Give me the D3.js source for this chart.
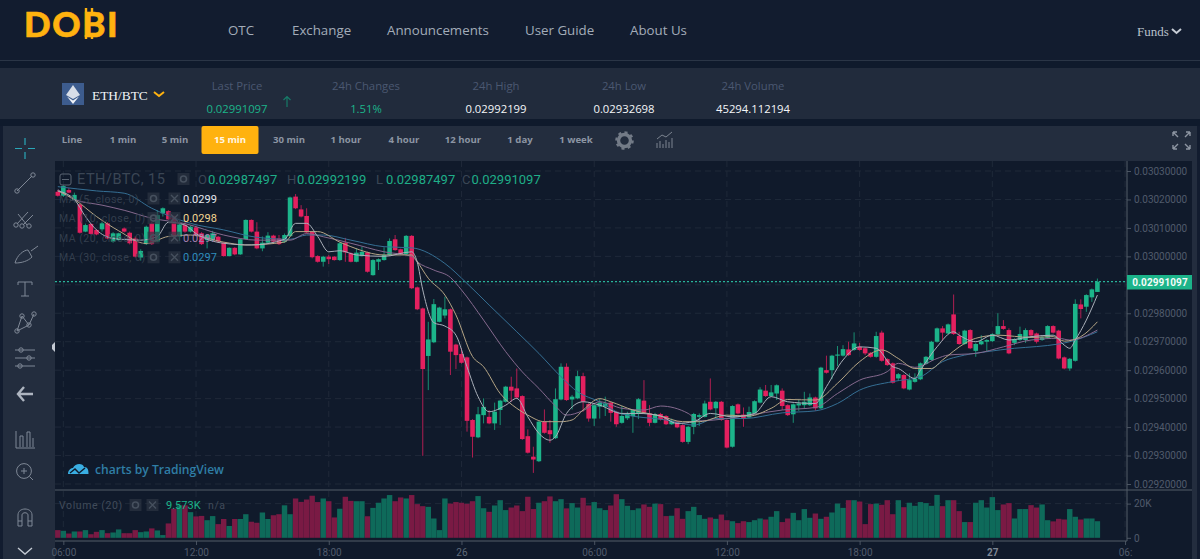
<!DOCTYPE html>
<html>
<head>
<meta charset="utf-8">
<title>ETH/BTC</title>
<script src="https://cdn.jsdelivr.net/npm/d3@7"></script>
<style>
  html, body { margin: 0; padding: 0; background: #121c2f; overflow: hidden; }
  text { font-family: "Open Sans", sans-serif; }
</style>
</head>
<body>
<div id="chart"></div>
<script>
/* DATA - prices in 1/100000 BTC, one entry per 15 min candle, volumes in K */
var opens = [3022.7,3021.3,3023.3,3019.8,3018.3,3008.7,3011.4,3009.3,3009.5,3011.6,
3005.2,3005.7,3009.8,3008.3,3006.3,2999.6,3004.3,3011.6,3005.2,3015.1,
3015.9,3014,3006.9,3011,3008.7,3010.2,3008.1,3005.7,3005.7,3006.9,
3004.8,3000.1,3003,3000.7,3006.1,3012.8,3008.7,3002.8,3004.8,3007.3,
3006.3,3005.2,3007.1,3021,3016.5,3014.2,3008.7,3000.1,2998.1,2999.9,
2999.9,2998.7,3004.8,3001.1,2998.1,3000.1,3001.4,2993.4,2998.1,2998.7,
3000.5,3006,3002.5,3000.8,3007.2,2989.1,2981.7,2965,2969.8,2977,
2979.2,2981.4,2969,2965.7,2964.5,2942.5,2936.4,2944.2,2943.6,2941.3,
2946,2948.9,2954.2,2953.6,2950.9,2936.8,2929.6,2928,2941.9,2938.9,
2936.1,2949.7,2961.2,2949.7,2950.1,2957.9,2948.1,2943,2947.2,2947.2,
2948.6,2945.4,2941.5,2943.1,2943.9,2944.6,2949.3,2944.8,2941.5,2944.6,
2943.9,2941,2941.9,2940.7,2934.8,2940.1,2943.6,2943.6,2948.9,2946.6,
2948.9,2942.5,2933.1,2948,2944.4,2943.4,2944.8,2948.6,2952.8,2950.9,
2951.8,2952.8,2947.7,2944.5,2947.6,2947.7,2947.7,2950.4,2946.6,2960,
2960,2965.1,2965.1,2967.3,2967.1,2968.2,2967.7,2966.1,2964.7,2973.2,
2963.9,2962.4,2957.1,2958.3,2953.2,2955.9,2956.8,2962.2,2963.6,2970,
2974.7,2972.9,2979.6,2972,2969.2,2974.1,2966.8,2969.1,2970,2970.2,
2972.6,2975.5,2974.1,2969.6,2970.6,2970.6,2974.1,2972.9,2970.6,2971.4,
2975.5,2973.9,2964.5,2960.6,2963.3,2983.1,2982.3,2985.6,2987.5];

var highs = [3023.3,3025,3024,3022.4,3018.6,3011.5,3011.6,3009.5,3012.2,3012,
3008.5,3008.3,3010.2,3008.7,3007,3002.5,3010.8,3012,3016.2,3017.2,
3016.2,3014.3,3012.6,3012,3010.8,3010.8,3008.5,3007.8,3009,3007.2,
3005,3003.2,3003.2,3006.2,3013,3013,3012,3007,3008.5,3007.6,
3007.5,3008,3021,3021.9,3018,3016.9,3009,3000.4,3000.2,3000.5,
3000.1,3005,3006.5,3001.4,3002.8,3003.4,3001.7,2999,2999.3,3003.2,
3006.3,3007.5,3002.7,3007.5,3007.5,2989.4,2982,2977,2985,2982.3,
2985.8,2981.7,2969.3,2967.7,2964.8,2942.8,2947.1,2950.1,2946,2948.6,
2949.6,2954.5,2957.7,2960.6,2951.2,2939.2,2933.1,2942.2,2946.2,2942.5,
2953.6,2962.4,2962.4,2951.3,2959.8,2959.1,2948.4,2948,2950,2950.7,
2949,2945.7,2947.4,2945.4,2946.3,2950.2,2956.5,2947.7,2945,2945,
2944.2,2943,2942.2,2941,2940.4,2945,2944.8,2949.3,2957.1,2949.2,
2949.2,2942.8,2947.7,2948.3,2946.9,2947.2,2949.4,2954,2954.8,2954.8,
2955,2953.6,2948,2948.3,2949.7,2952.4,2951.8,2950.7,2961.2,2965.1,
2965.4,2968.5,2968.8,2970,2973.3,2969.6,2968,2966.4,2973.5,2973.9,
2964.2,2962.7,2959,2958.6,2958.9,2958.9,2962.7,2965,2970.3,2975,
2975.5,2976.4,2986.6,2973.5,2974.2,2974.4,2969.5,2972.3,2970.9,2973,
2980,2977.6,2974.7,2971.2,2975.3,2974.7,2974.4,2973.2,2972.3,2975.8,
2975.8,2974.2,2964.8,2964.3,2984.9,2984.9,2986.7,2988.7,2992.2];

var lows = [3021,3020.9,3022.2,3019.8,3008,3008.5,3007.6,3007.4,3008.7,3006,
3004.8,3005.5,3008.4,3004.2,2999.6,2998.5,3004,3004,3005,3014,
3012.8,3006.5,3005.5,3008.3,3008.4,3007,3004,3002.8,3005.4,3005,
2999.9,3000,3000.4,3000.5,3006,3008.4,3002.5,3001.8,3004.5,3004.9,
3004,3004.8,3006.8,3016.6,3013.7,3008.1,2999.3,2997.8,2996.4,2997.3,
2998.5,2998.4,2998.1,2997.9,2997.9,2999.9,2994.3,2993.2,2995.2,2998.5,
3000.2,3002,3000.5,3000.5,2988.5,2981.1,2929.9,2953,2969.5,2976.8,
2978.2,2958.3,2960.4,2962.3,2938.4,2929.3,2936.1,2941.3,2941,2939,
2940.7,2948.6,2948.9,2950.1,2935.5,2930.7,2923.9,2927.7,2937.7,2934.5,
2935.8,2949.4,2949.2,2946.2,2949.8,2945.4,2941.9,2940.4,2943,2943.9,
2941.9,2940.1,2941.2,2942.5,2938,2942.8,2944.7,2940.3,2941.3,2942.3,
2940.7,2940.8,2939.6,2934.5,2934,2937.5,2940.4,2943.4,2945.9,2943.1,
2942.2,2932.5,2932.8,2944.5,2940.1,2943.1,2944.5,2948.3,2950.6,2950.6,
2949.5,2946,2943.9,2941.5,2945.7,2946.6,2947.4,2945.7,2946.3,2958.8,
2956.8,2961.4,2964.8,2965,2966.8,2966.8,2965.3,2964.4,2964.4,2963,
2961.5,2955.3,2956.3,2953.3,2952.9,2955.6,2956.5,2961.9,2963.3,2969.7,
2970.4,2972.6,2972.4,2968.9,2968.9,2967.4,2964.7,2968.8,2966.5,2969.9,
2972.3,2974.2,2965.6,2968.8,2970.3,2969.6,2971.9,2969.4,2970.3,2971.1,
2972.9,2963.8,2960.3,2959.8,2963,2978.2,2980.5,2984,2987.5];

var closes = [3021.3,3024.7,3022.4,3021.6,3008.3,3011,3007.9,3007.7,3011.6,3006.3,
3008.1,3008.1,3008.7,3004.6,2999.9,3001.9,3010.4,3004.3,3014.5,3016.9,
3013,3006.9,3011.2,3008.7,3010.4,3007.5,3004.3,3007.5,3008.1,3005.2,
3000.1,3003,3000.7,3006,3012.8,3008.7,3002.8,3004.8,3007.3,3005.2,
3004.3,3007.5,3020.7,3016.9,3014,3008.4,2999.7,2998.1,2999.9,2999,
2998.7,3004.6,3001.4,2998.1,3001.3,3001.6,2994.6,2998.7,2999,3000.5,
3005.4,3002.2,3000.8,3007.2,2988.8,2981.4,2960.4,2970.8,2983.2,2982,
2981.4,2966.5,2965.3,2962.6,2942.2,2936.6,2944.5,2947.1,2941.3,2945.4,
2949.3,2954.2,2952.8,2950.4,2935.8,2931,2928.6,2941.9,2938,2937.5,
2949.8,2961.2,2949.5,2950.7,2957.9,2948.9,2943,2947.7,2948.6,2948.3,
2945,2941,2943.9,2944.6,2946,2949.8,2945,2941.5,2944.6,2942.7,
2941,2942.2,2939.9,2934.8,2940.1,2944.6,2944.2,2948.3,2946.2,2948.9,
2942.5,2932.8,2947.4,2944.8,2943,2945.3,2949.1,2953.2,2950.9,2952.2,
2954.7,2947.4,2944.2,2948,2948.3,2948.9,2950.4,2946.6,2960.9,2959.1,
2965.1,2965.5,2967.4,2965.3,2969.4,2967.1,2965.9,2964.7,2972,2963.3,
2961.8,2955.6,2958.6,2953.6,2956.5,2957.1,2962.4,2964.7,2970,2974.7,
2973.2,2976.1,2972.7,2969.2,2973.9,2967.7,2969.2,2970.2,2970.6,2972.7,
2975.5,2974.5,2965.9,2970.9,2972.7,2974.1,2972.2,2970,2971.5,2975.5,
2973.2,2964.1,2960.6,2964,2983.3,2981.5,2986.4,2988.4,2991.1];

var volumes = [4.5,4.1,2.5,3.7,3.7,4.5,2.1,3.5,4.5,2.7,
3.1,4.9,2.7,2.7,4.5,3.3,3.7,5.5,4.3,1.6,
8.4,17,19,19,15,12.5,12.8,10.3,12.7,8,
11,6.9,11,11,13.8,9.4,8.8,14.8,11,13.2,
13.8,19,13.8,23,21,22.4,24.6,20.9,23,21.4,
11.9,17,24,21.6,21.4,21.4,12.6,17.5,20.5,23,
25,21.4,23.6,23,25,19.7,18.5,18.1,11.3,4.5,
23,20,20.9,20.5,19.9,21.4,24.4,17.3,15.2,18.9,
22,16.2,17.7,18.9,15.6,24,16.8,20.5,21.4,24.2,
21.4,22.6,17.2,20.3,17.7,23.4,18.9,20.9,17.3,16.2,
18.9,25.5,22.6,18.7,16.2,17.2,19.5,18.1,20,19.7,
12.7,12.9,17.3,11.1,15.6,18.1,13.3,11.1,11.9,11.1,
13.6,10.3,9.7,8.6,9.7,9.2,10.3,11.3,10.7,12.3,
15.6,9.2,11.3,14.6,10.3,16.8,11.7,14.2,11.1,12.3,
14.8,20,17.5,22,22,21.2,8,19.7,20,19.3,
22,13.8,22,17.9,20.5,18.7,20.9,20.3,18.7,25.1,
18.5,22,22,15.6,9.2,9.2,20.5,22,17.7,23.8,
16.2,19.5,20.3,11.3,16.8,16.8,19.1,17.7,19.5,10.3,
9.6,11.1,10.7,16.8,12.3,10.7,11.3,11.3,9.7];

// moving averages: [candle index, price]
var ma5 = [[0,3023],[3,3020],[5,3014],[7,3009.3],[10,3006.3],[15,3005.7],[18,3007],[20,3012],[23,3011],[25,3008],[30,3004.6],[35,3004],[41,3006],[43,3011.6],[45,3011.6],[47,3007],[49,3001.6],[51,3002],[54,3000.5],[59,3000],[64,3001.6],
  [65,2998],[66,2988.2],[68,2976.7],[70,2975.5],[72,2972.3],[74,2961.2],[76,2950.7],[78,2945.4],[81,2947.7],[83,2950.1],[85,2943.6],[87,2937.8],[89,2935.4],[90,2936.6],[92,2944.8],[95,2948.9],[98,2947.7],
  [102,2944.8],[105,2944.8],[109,2943.9],[112,2941.3],[115,2941.9],[118,2944.8],[122,2943.6],[126,2944.8],[129,2950.7],[132,2948.9],[137,2948.3],[139,2954.2],[142,2963.6],[145,2968.2],[148,2967.7],[151,2961.2],
  [152,2960.6],[155,2957.1],[156,2960],[159,2968.2],[162,2973.5],[163,2972.3],[166,2970],[169,2972.3],[172,2970.6],[176,2971.8],[180,2972.3],[182,2968.8],[183,2967.7],[184,2970.6],[186,2977.6],[188,2986.4]];
var ma10 = [[0,3023],[3,3020],[7,3014],[11,3009],[16,3004.5],[20,3007],[24,3007.5],[30,3005],[34,3004],[41,3005],[43,3008.7],[47,3008.7],[51,3005],[53,3003.4],[59,3000.5],[64,3000.5],
  [65,2998.1],[67,2992.3],[70,2986.4],[72,2979.4],[75,2964.8],[77,2961.2],[80,2951.8],[83,2946.6],[85,2944.2],[88,2941.9],[91,2941.9],[93,2942.5],[95,2946],[98,2950],
  [100,2948.9],[104,2946],[109,2943.9],[113,2941.9],[116,2941.9],[121,2944.2],[125,2943.9],[129,2946.6],[132,2949.7],[137,2949.5],[141,2955.4],[145,2963],[149,2967.1],[152,2964.1],
  [155,2960.6],[158,2960.6],[160,2963.6],[164,2969.4],[166,2971.2],[170,2972.3],[176,2971.5],[180,2971.8],[182,2970.2],[185,2971.8],[188,2977]];
var ma20 = [[0,3023.5],[3,3020],[8,3018],[12,3016.2],[17,3013.4],[23,3011.5],[30,3007.5],[36,3005.7],[42,3005.7],[45,3008],[48,3006.9],[53,3004.6],[59,3001.6],[64,3000],
  [65,2998.1],[68,2995.2],[71,2992.6],[73,2988.2],[77,2977.6],[81,2966.5],[84,2959.4],[87,2953.6],[90,2947.4],[92,2944.2],[95,2945.8],[98,2948.9],
  [102,2946.6],[106,2946],[109,2947.4],[114,2944.8],[116,2942.2],[121,2943],[125,2944.2],[131,2946],[137,2946.9],[141,2951.8],[145,2956.5],[150,2959.5],
  [152,2962.4],[155,2961],[159,2964.1],[161,2965.3],[166,2965.9],[171,2968.2],[176,2970.6],[181,2971.2],[183,2970.6],[188,2974.1]];
var ma30 = [[0,3024.5],[7,3023],[12,3022.2],[17,3016.9],[24,3011.6],[30,3009.3],[36,3006.7],[42,3006],[45,3007.5],[48,3007.5],[53,3005.7],[59,3003.4],[64,3003],
  [70,2997.5],[74,2990.5],[78,2982.9],[83,2973.5],[87,2965.9],[91,2957.7],[94,2952.4],[98,2948.9],
  [102,2944.6],[110,2942.5],[115,2940.7],[119,2943],[124,2943],[131,2945],[137,2945.7],[141,2948.3],[145,2953],[151,2956],
  [156,2957.7],[160,2963],[164,2965.3],[168,2966.5],[173,2967.7],[177,2968.3],[181,2969.2],[183,2970],[188,2973.5]];

var priceTicks = [3030,3020,3010,3000,2990,2980,2970,2960,2950,2940,2930,2920];
var volumeTicks = [0,20];
var timeTicks = [1,25,49,73,97,121,145,169,193];
var timeLabels = ["06:00","12:00","18:00","26","06:00","12:00","18:00","27","06:"];
var lastPrice = 2991.097;

var navItems = ["OTC","Exchange","Announcements","User Guide","About Us"];
var navX = [228,292,387,525,630];
var statNames = ["Last Price","24h Changes","24h High","24h Low","24h Volume"];
var statValues = ["0.02991097","1.51%","0.02992199","0.02932698","45294.112194"];
var statX = [237,366,496,624,753];
var intervals = ["Line","1 min","5 min","15 min","30 min","1 hour","4 hour","12 hour","1 day","1 week"];
var intervalX = [72,123,175,230,289,346,404,463,520,576];
var maLabels = ["MA (5, close, 0)","MA (10, close, 0)","MA (20, close, 0)","MA (30, close, 0)"];
var maValues = ["0.0299","0.0298","0.0297","0.0297"];
var maColors = ["#aab0ba","#b5a585","#85698e","#356f94"];
var maValueColors = ["#e4e8ee","#f3d792","#a77fb0","#2f8dbd"];

var width = 1200, height = 559;
var up = "#1cb48a", down = "#e4205f", upVol = "#0e6a5a", downVol = "#7a1a44";

var svg = d3.select("#chart").append("svg")
    .attr("width", width)
    .attr("height", height)
    .style("display", "block");

/* HELPERS */
function label(x, y, str, size, fill, opt) {
    opt = opt || {};
    return svg.append("text")
        .attr("x", x).attr("y", y)
        .attr("text-anchor", opt.anchor || "start")
        .attr("font-size", size)
        .attr("font-weight", opt.weight || "normal")
        .attr("letter-spacing", opt.spacing || 0)
        .style("font-family", opt.font || "\"Open Sans\", sans-serif")
        .attr("fill", fill)
        .text(str);
}
function rect(x, y, w, h, fill) {
    return svg.append("rect").attr("x", x).attr("y", y).attr("width", w).attr("height", h).attr("fill", fill);
}
function icon(d, stroke, w) {
    return svg.append("path").attr("d", d).attr("fill", "none").attr("stroke", stroke).attr("stroke-width", w || 1);
}

/* PAGE PANELS */
rect(0, 0, width, height, "#121c2f");
rect(0, 60, width, 1, "#2a3546");
rect(0, 61, width, 7, "#0f1a2c");
rect(0, 68, width, 51, "#212b3c");
rect(0, 119, width, 7, "#0f1a2c");
rect(3, 126, 1194, 433, "#232d3e");
rect(55, 161, 1137, 398, "#101a2b");
rect(0, 126, 3, 433, "#121c2f");
rect(1197, 126, 3, 433, "#121c2f");

/* HEADER */
label(24, 37, "DOBI", 35, "#ffb20f", {weight: 900, font: "Lato, sans-serif", spacing: 1.6})
    .attr("stroke", "#ffb20f").attr("stroke-width", 0.6);
icon("M86 8V12M92 8V12M86 35V39M92 35V39", "#ffb20f", 2.4);

navItems.forEach(function(t, i) { label(navX[i], 35, t, 13.3, "#a3acb9"); });
label(1137, 36, "Funds", 13, "#b9c0ca", {font: "\"Liberation Serif\", serif"});
icon("M1172 29L1176.5 33L1181 29", "#c6ccd5", 2);

/* TICKER */
rect(62, 83, 22, 22, "#3d5c8e");
svg.append("path").attr("d", "M73 85L80 95L73 99L66 95Z").attr("fill", "#d8dee8");
svg.append("path").attr("d", "M73 100.5L79 96.5L73 104L67 96.5Z").attr("fill", "#eef1f6");
label(92, 100, "ETH/BTC", 13.4, "#f2f4f7", {font: "\"Liberation Serif\", serif"});
icon("M154 92L159 96L164 92", "#ffb20f", 2);

statNames.forEach(function(t, i) {
    label(statX[i], 90, t, 11.3, "#4b5871", {anchor: "middle"});
    label(statX[i], 113, statValues[i], 11.3, i < 2 ? "#1cb48a" : "#f4f6f8", {anchor: "middle"});
});
icon("M287 107V97M283.5 100L287 96.5L290.5 100", "#177a68", 1.2);

/* INTERVAL BAR */
svg.append("rect").attr("x", 201.5).attr("y", 126).attr("width", 57).attr("height", 28)
    .attr("rx", 2).attr("fill", "#ffb20f");
intervals.forEach(function(t, i) {
    label(intervalX[i], 143, t, 9.6, i === 3 ? "#fff7e3" : "#8c95a3", {anchor: "middle", weight: 700});
});
svg.append("circle").attr("cx", 624.5).attr("cy", 140.5).attr("r", 6)
    .attr("fill", "none").attr("stroke", "#737b87").attr("stroke-width", 3.4);
svg.append("circle").attr("cx", 624.5).attr("cy", 140.5).attr("r", 8.2)
    .attr("fill", "none").attr("stroke", "#737b87").attr("stroke-width", 2.2).attr("stroke-dasharray", "3 3.4");
icon("M657 148V143M660 148V141M663 148V144M666 148V140M669 148V142M672 148V138M657 139L662 135L666 137L672 132", "#7c8490", 1);
icon("M1173 132L1178 137M1173 132H1177M1173 132V136M1190 132L1185 137M1190 132H1186M1190 132V136M1173 149L1178 144M1173 149H1177M1173 149V145M1190 149L1185 144M1190 149H1186M1190 149V145", "#8d95a2", 1.4);

/* LEFT TOOLBAR */
var tool = "#7f8896";
function dot(cx, cy) {
    svg.append("circle").attr("cx", cx).attr("cy", cy).attr("r", 2.2).attr("fill", "none").attr("stroke", tool);
}
icon("M15 148.5H22M28 148.5H35M25 138V145M25 152V159", "#2aa7b8", 1.2);
icon("M17 191L32 176", tool);
dot(17, 191); dot(33, 175);
icon("M17 224L28 212M23 225L33 215M18 214L27 225", tool);
dot(16, 225); dot(22, 226); dot(29, 226);
icon("M15 263C17 255 24 250 28 250L32 257C28 261 22 263 15 263ZM31 251L38 246", tool);
icon("M18 282H32V285M18 282V285M25 282V296M21 296H29", tool);
icon("M17 331L22 316L29 325L34 314M17 331L29 325", tool);
dot(17, 331); dot(22, 316); dot(29, 325); dot(34, 314);
icon("M15 350H35M15 358H35M15 366H35", tool);
dot(21, 350); dot(29, 358); dot(20, 366);
icon("M24 387L18 394L24 401M18 394H33", "#aeb5c0", 2.4);
icon("M16 431V448H35M20 447V436H23V447M27 447V432H30V447M33 447V438", tool);
svg.append("circle").attr("cx", 24).attr("cy", 471).attr("r", 7.4).attr("fill", "none").attr("stroke", tool);
icon("M29.5 476.5L33 480M21 471H27M24 468V474", tool);
icon("M18 526V515C18 507 32 507 32 515V526H28V515C28 512 22 512 22 515V526ZM18 521H22M28 521H32", tool);
icon("M18 548L25 554L32 548", "#c4cad3", 1.4);
svg.append("path").attr("d", "M52 345L55 342V352L52 349Z").attr("fill", "#c4cad3");

/* SCALES */
var plotLeft = 55, plotRight = 1127, plotTop = 161, paneBottom = 490, volBottom = 541;
var x = d3.scaleLinear().domain([0, 188]).range([57.8, 1097.4]);
var y = d3.scaleLinear().domain([2920, 3030]).range([484, 171]);
var yVol = d3.scaleLinear().domain([0, 20]).range([537.8, 503.6]);
var bodyWidth = 4.6;
var candles = d3.range(opens.length);

/* GRID */
var grid = svg.append("g").attr("stroke", "#1f2939").attr("stroke-dasharray", "6 4");
grid.selectAll(".gy").data(priceTicks).enter().append("line")
    .attr("x1", plotLeft).attr("x2", plotRight)
    .attr("y1", d => y(d)).attr("y2", d => y(d));
grid.selectAll(".gx").data(timeTicks).enter().append("line")
    .attr("x1", d => x(d)).attr("x2", d => x(d))
    .attr("y1", plotTop).attr("y2", volBottom);
grid.append("line")
    .attr("x1", plotLeft).attr("x2", plotRight)
    .attr("y1", yVol(20)).attr("y2", yVol(20));

/* LAST PRICE LINE */
svg.append("line")
    .attr("x1", plotLeft).attr("x2", plotRight)
    .attr("y1", y(lastPrice)).attr("y2", y(lastPrice))
    .attr("stroke", "#2fd8b4").attr("stroke-dasharray", "2 2");

/* VOLUME */
svg.append("g").selectAll("rect").data(candles).enter().append("rect")
    .attr("x", i => x(i) - 2.7)
    .attr("width", 5.4)
    .attr("y", i => yVol(volumes[i]))
    .attr("height", i => yVol(0) - yVol(volumes[i]))
    .attr("fill", i => closes[i] >= opens[i] ? upVol : downVol);

/* CANDLES */
var candleG = svg.append("g");
candleG.selectAll("line").data(candles).enter().append("line")
    .attr("x1", i => x(i)).attr("x2", i => x(i))
    .attr("y1", i => y(highs[i])).attr("y2", i => y(lows[i]))
    .attr("stroke", i => closes[i] >= opens[i] ? up : down)
    .attr("stroke-opacity", 0.75);
candleG.selectAll("rect").data(candles).enter().append("rect")
    .attr("x", i => x(i) - bodyWidth / 2)
    .attr("width", bodyWidth)
    .attr("y", i => y(Math.max(opens[i], closes[i])))
    .attr("height", i => Math.max(1, Math.abs(y(opens[i]) - y(closes[i]))))
    .attr("fill", i => closes[i] >= opens[i] ? up : down);

/* MOVING AVERAGES */
var line = d3.line().x(d => x(d[0])).y(d => y(d[1])).curve(d3.curveMonotoneX);
[ma30, ma20, ma10, ma5].forEach(function(series, i) {
    svg.append("path")
        .attr("d", line(series))
        .attr("fill", "none")
        .attr("stroke", maColors[3 - i])
        .attr("stroke-width", 1);
});

/* AXES */
// the 0.0299 label sits under the last price tag in the original
var priceAxis = d3.axisRight(y).tickValues(priceTicks.filter(d => d !== 2990)).tickSize(4).tickPadding(3)
    .tickFormat(d => (d / 1e5).toFixed(8));
var volAxis = d3.axisRight(yVol).tickValues(volumeTicks).tickSize(4).tickPadding(3)
    .tickFormat(d => d ? d + "K" : "0");
var timeAxis = d3.axisBottom(x).tickValues(timeTicks).tickSize(4).tickPadding(4)
    .tickFormat((d, i) => timeLabels[i]);

function styleAxis(g) {
    g.select(".domain").remove();
    g.selectAll("line").attr("stroke", "#4a5462");
    g.selectAll("text").attr("fill", "#505b6b").attr("font-size", 10)
        .style("font-family", "Roboto, sans-serif");
}
svg.append("g").attr("transform", "translate(" + plotRight + ",0)").call(priceAxis).call(styleAxis);
svg.append("g").attr("transform", "translate(" + plotRight + ",0)").call(volAxis).call(styleAxis);
svg.append("g").attr("transform", "translate(0," + volBottom + ")").call(timeAxis).call(styleAxis);
svg.selectAll("text").filter(function() { return this.textContent === "27"; })
    .attr("fill", "#7d8693").attr("font-weight", 700);
svg.selectAll("text").filter(function() { return this.textContent === "26"; })
    .attr("fill", "#5f6a79");

// pane borders drawn above the volume and the grid
svg.append("line").attr("x1", plotRight).attr("x2", plotRight).attr("y1", plotTop).attr("y2", volBottom).attr("stroke", "#525c69");
svg.append("line").attr("x1", plotLeft).attr("x2", 1192).attr("y1", paneBottom).attr("y2", paneBottom).attr("stroke", "#525c69");
svg.append("line").attr("x1", plotLeft).attr("x2", plotRight).attr("y1", volBottom).attr("y2", volBottom).attr("stroke", "#525c69");

/* LAST PRICE TAG */
rect(plotRight, 275, 65, 14.5, "#1cb48a");
label(1160, 286, "0.02991097", 10, "#f4fbf8", {anchor: "middle", weight: 700, font: "Roboto, sans-serif", spacing: 0.1});

/* CHART LEGEND */
var faint = "#3b4655";
function button(cx, cy, cross) {
    rect(cx - 6, cy - 6, 12, 12, "#2c3543").attr("opacity", 0.7);
    if (cross) icon("M" + (cx - 3.5) + " " + (cy - 3.5) + "L" + (cx + 3.5) + " " + (cy + 3.5) + "M" + (cx + 3.5) + " " + (cy - 3.5) + "L" + (cx - 3.5) + " " + (cy + 3.5), "#46505e", 1.4);
    else svg.append("circle").attr("cx", cx).attr("cy", cy).attr("r", 3).attr("fill", "none").attr("stroke", "#46505e").attr("stroke-width", 1.6);
}
svg.append("rect").attr("x", 60).attr("y", 174).attr("width", 11).attr("height", 11).attr("rx", 2)
    .attr("fill", "none").attr("stroke", "#5a6472");
svg.append("line").attr("x1", 62).attr("x2", 69).attr("y1", 179.5).attr("y2", 179.5).attr("stroke", "#5a6472");
label(77, 184, "ETH/BTC, 15", 14.6, faint, {font: "Roboto, sans-serif", spacing: 0.45});
button(183.5, 179, false);
["O", "H", "L", "C"].forEach(function(k, i) {
    label([198, 287, 376, 462][i], 184, k, 13, faint, {font: "Roboto, sans-serif"});
});
["0.02987497", "0.02992199", "0.02987497", "0.02991097"].forEach(function(v, i) {
    label([208, 297, 386, 471.5][i], 184, v, 13, "#1fae88", {font: "Roboto, sans-serif"});
});

maLabels.forEach(function(t, i) {
    var yy = 198.5 + i * 19.6;
    label(59, yy + 4, t, 10.5, "#3a4554", {font: "Roboto, sans-serif", spacing: 0.5}).attr("opacity", 0.85);
    button(153.5, yy, false);
    button(174.5, yy, true);
    label(183, yy + 4, maValues[i], 11, maValueColors[i], {font: "Roboto, sans-serif"});
});

/* VOLUME LEGEND */
label(59, 509, "Volume (20)", 10.5, "#404b5a", {font: "Roboto, sans-serif", spacing: 0.6});
button(135.5, 505, false);
button(152.5, 505, true);
label(166, 509, "9.573K", 11, "#1cb48a", {font: "Roboto, sans-serif"});
label(208, 509, "n/a", 10.5, "#404b5a", {font: "Roboto, sans-serif", spacing: 0.6});

/* TRADINGVIEW MARK */
svg.append("path")
    .attr("d", "M68 474C68 469 72 468 73 468C75 463 83 463 84 467C88 467 88.5 470 88.5 474Z")
    .attr("fill", "#3aaee2");
icon("M70 473L75 469L79 473L85 468", "#101a2b", 1.4);
label(95, 474, "charts by TradingView", 12.1, "#2f7ea6", {font: "\"Open Sans\", sans-serif", weight: 600});
</script>
</body>
</html>
